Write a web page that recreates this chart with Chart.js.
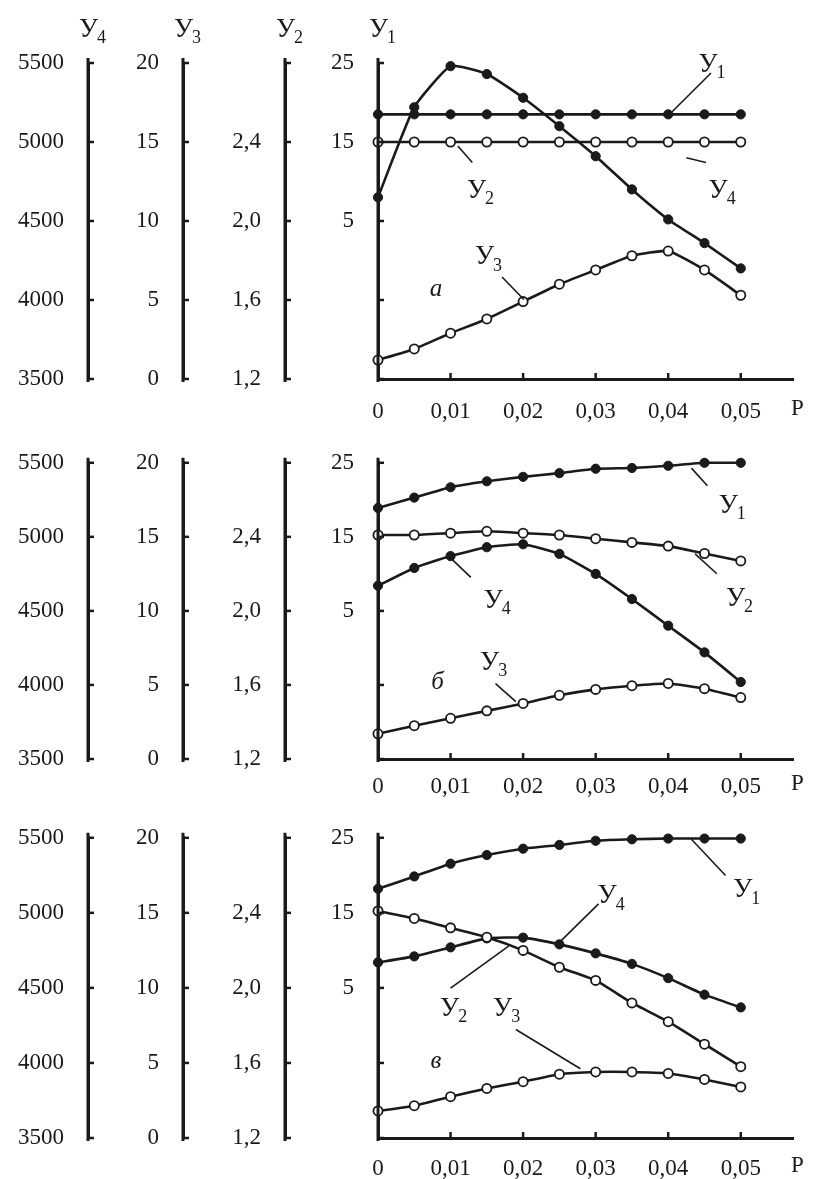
<!DOCTYPE html>
<html>
<head>
<meta charset="utf-8">
<script src="https://cdn.jsdelivr.net/npm/chart.js@4.4.1/dist/chart.umd.min.js"></script>
<style>
  body { margin: 0; background: #fff; width: 813px; height: 1179px; overflow: hidden; }
  .panel { position: absolute; left: 0; }
</style>
</head>
<body>
<div class="panel" style="top:0"><canvas id="chart-a" width="813" height="425"></canvas></div>
<div class="panel" style="top:425px"><canvas id="chart-b" width="813" height="375"></canvas></div>
<div class="panel" style="top:800px"><canvas id="chart-c" width="813" height="379"></canvas></div>
<script>
// P values (x axis), same for all three panels
const pValues = [0, 0.005, 0.01, 0.015, 0.02, 0.025, 0.03, 0.035, 0.04, 0.045, 0.05];

// panel a
const aY1 = [18.5, 18.5, 18.5, 18.5, 18.5, 18.5, 18.5, 18.5, 18.5, 18.5, 18.5];
const aY2 = [2.4, 2.4, 2.4, 2.4, 2.4, 2.4, 2.4, 2.4, 2.4, 2.4, 2.4];
const aY3 = [1.2, 1.9, 2.9, 3.8, 4.9, 6.0, 6.9, 7.8, 8.1, 6.9, 5.3];
const aY4 = [4650, 5220, 5480, 5430, 5280, 5100, 4910, 4700, 4510, 4360, 4200];

// panel б
const bY1 = [18.9, 20.3, 21.7, 22.5, 23.1, 23.6, 24.2, 24.3, 24.6, 25.0, 25.0];
const bY2 = [2.41, 2.41, 2.42, 2.43, 2.42, 2.41, 2.39, 2.37, 2.35, 2.31, 2.27];
const bY3 = [1.7, 2.25, 2.75, 3.25, 3.75, 4.3, 4.7, 4.95, 5.1, 4.75, 4.15];
const bY4 = [4670, 4790, 4870, 4930, 4950, 4885, 4750, 4580, 4400, 4220, 4020];

// panel в
const cY1 = [18.2, 19.85, 21.55, 22.7, 23.55, 24.05, 24.6, 24.8, 24.9, 24.9, 24.9];
const cY2 = [2.41, 2.37, 2.32, 2.27, 2.2, 2.11, 2.04, 1.92, 1.82, 1.7, 1.58];
const cY3 = [1.8, 2.15, 2.75, 3.3, 3.75, 4.25, 4.4, 4.4, 4.3, 3.9, 3.4];
const cY4 = [4670, 4710, 4770, 4830, 4835, 4790, 4730, 4660, 4565, 4455, 4370];

// ticks and their labels
const xTicks = [0, 0.01, 0.02, 0.03, 0.04, 0.05];
const xTickLabels = ['0', '0,01', '0,02', '0,03', '0,04', '0,05'];
const y1Ticks = [-15, -5, 5, 15, 25];
const y1TickLabels = ['', '', '5', '15', '25'];
const y2Ticks = [1.2, 1.6, 2.0, 2.4, 2.8];
const y2TickLabels = ['1,2', '1,6', '2,0', '2,4', ''];
const y3Ticks = [0, 5, 10, 15, 20];
const y3TickLabels = ['0', '5', '10', '15', '20'];
const y4Ticks = [3500, 4000, 4500, 5000, 5500];
const y4TickLabels = ['3500', '4000', '4500', '5000', '5500'];

// curve captions: text position and leader line, in (P, У3) units
const aNotes = [
    { sub: '1', x: 0.0461, y: 19.9, line: [0.0404, 16.85, 0.0459, 19.37] },
    { sub: '2', x: 0.0142, y: 11.9, line: [0.0110, 14.75, 0.0130, 13.7] },
    { sub: '4', x: 0.0475, y: 11.9, line: [0.0425, 14.0, 0.0452, 13.7] },
    { sub: '3', x: 0.0153, y: 7.7, line: [0.0171, 6.46, 0.0201, 5.03] },
];
const bNotes = [
    { sub: '1', x: 0.0489, y: 17.1, line: [0.0432, 19.64, 0.0454, 18.45] },
    { sub: '2', x: 0.0499, y: 10.8, line: [0.0437, 13.85, 0.0467, 12.51] },
    { sub: '4', x: 0.0165, y: 10.7, line: [0.0101, 13.53, 0.0128, 12.26] },
    { sub: '3', x: 0.0160, y: 6.5, line: [0.0162, 5.09, 0.0190, 3.88] },
];
const cNotes = [
    { sub: '1', x: 0.0509, y: 16.5, line: [0.0432, 19.9, 0.0479, 17.49] },
    { sub: '4', x: 0.0322, y: 16.1, line: [0.0249, 12.98, 0.0304, 15.6] },
    { sub: '2', x: 0.0105, y: 8.6, line: [0.0100, 9.99, 0.0180, 12.78] },
    { sub: '3', x: 0.0178, y: 8.6, line: [0.0190, 7.23, 0.0279, 4.61] },
];

const INK = '#1a1a1a';
const SERIF = '"Liberation Serif", "DejaVu Serif", serif';

function drawY( ctx, cx, cy, sub, size )
{
    ctx.font = size + 'px ' + SERIF;
    const w1 = ctx.measureText('У').width;
    const small = Math.round(size * 0.68) + 'px ' + SERIF;
    ctx.font = small;
    const w2 = ctx.measureText(sub).width;
    const left = cx - (w1 + w2) / 2;
    ctx.textAlign = 'left';
    ctx.textBaseline = 'middle';
    ctx.font = size + 'px ' + SERIF;
    ctx.fillText('У', left, cy);
    ctx.font = small;
    ctx.fillText(sub, left + w1 - 1, cy + size * 0.32);
}

const inkPlugin = {
    id: 'ink',
    afterDraw( chart, args, opts ) {
        const ctx = chart.ctx;
        const xs = chart.scales.x;
        const ys = chart.scales.y3;
        ctx.save();
        ctx.strokeStyle = INK;
        ctx.fillStyle = INK;

        // small tick stubs on the left axes, pointing right, and the axis ends
        ['y1', 'y2', 'y3', 'y4'].forEach( id => {
            const s = chart.scales[id];
            ctx.lineWidth = 3;
            ctx.beginPath();
            ctx.moveTo(s.right, s.top - 5);
            ctx.lineTo(s.right, s.bottom + 3);
            ctx.stroke();
            ctx.lineWidth = 2.5;
            for( let i = 0; i < s.ticks.length; i++ )
            {
                const py = s.getPixelForTick(i);
                ctx.beginPath();
                ctx.moveTo(s.right, py);
                ctx.lineTo(s.right + 6, py);
                ctx.stroke();
            }
            if( opts.titles )
                drawY(ctx, s.right + 5, 30, id.slice(1), 27);
        } );

        // stubs on the P axis
        for( let i = 1; i < xTicks.length; i++ )
        {
            const px = xs.getPixelForValue(xTicks[i]);
            ctx.beginPath();
            ctx.moveTo(px, xs.top);
            ctx.lineTo(px, xs.top - 6);
            ctx.stroke();
        }

        // axis name P
        ctx.font = '23px ' + SERIF;
        ctx.textAlign = 'left';
        ctx.textBaseline = 'middle';
        ctx.fillText('P', chart.chartArea.right - 2, xs.top + xs.options.ticks.padding + 11);

        // captions with leader lines
        ctx.lineWidth = 1.6;
        opts.notes.forEach( n => {
            ctx.beginPath();
            ctx.moveTo(xs.getPixelForValue(n.line[0]), ys.getPixelForValue(n.line[1]));
            ctx.lineTo(xs.getPixelForValue(n.line[2]), ys.getPixelForValue(n.line[3]));
            ctx.stroke();
            drawY(ctx, xs.getPixelForValue(n.x), ys.getPixelForValue(n.y), n.sub, 27);
        } );

        // panel letter
        ctx.font = 'italic 25px ' + SERIF;
        ctx.textAlign = 'center';
        ctx.fillText(opts.tag, xs.getPixelForValue(opts.tagAt[0]), ys.getPixelForValue(opts.tagAt[1]));
        ctx.restore();
    }
};

function line( data, axis, filled )
{
    return {
        data: data.map( (v, i) => ({ x: pValues[i], y: v }) ),
        yAxisID: axis,
        borderColor: INK,
        borderWidth: 2.6,
        tension: 0.15,
        pointRadius: 4.6,
        pointBorderWidth: filled ? 1 : 1.8,
        pointBorderColor: INK,
        pointBackgroundColor: filled ? INK : '#ffffff',
        clip: false,
    };
}

function yAxis( ticks, labels, min, max, width, weight )
{
    return {
        type: 'linear',
        position: 'left',
        min: min,
        max: max,
        weight: weight,
        grid: { display: false, drawTicks: false },
        border: { display: true, color: INK, width: 3 },
        afterBuildTicks: s => { s.ticks = ticks.map( v => ({ value: v }) ); },
        afterFit: s => { s.width = width; },
        ticks: {
            padding: 24,
            color: INK,
            font: { family: SERIF, size: 23 },
            callback: (v, i) => labels[i],
        },
    };
}

function makePanel( id, series, notes, tag, tagAt, top, xPad, titles )
{
    const ctx = document.getElementById(id).getContext('2d');
    new Chart( ctx, {
        type: 'line',
        data: {
            datasets: [
                line(series[0], 'y1', true),
                line(series[1], 'y2', false),
                line(series[2], 'y3', false),
                line(series[3], 'y4', true),
            ]
        },
        options: {
            responsive: false,
            animation: false,
            layout: { padding: { top: top, right: 20, left: 0, bottom: 0 } },
            plugins: {
                legend: { display: false },
                tooltip: { enabled: false },
                ink: { notes: notes, tag: tag, tagAt: tagAt, titles: titles },
            },
            scales: {
                x: {
                    type: 'linear',
                    min: 0,
                    max: 0.0572,
                    grid: { display: false, drawTicks: false },
                    border: { display: true, color: INK, width: 3 },
                    afterBuildTicks: s => { s.ticks = xTicks.map( v => ({ value: v }) ); },
                    afterFit: s => { s.height = document.getElementById(id).height - 316 - top; },
                    ticks: {
                        padding: xPad,
                        maxRotation: 0,
                        autoSkip: false,
                        color: INK,
                        font: { family: SERIF, size: 23 },
                        callback: (v, i) => xTickLabels[i],
                    },
                },
                y1: yAxis(y1Ticks, y1TickLabels, -15, 25, 93, 0),
                y2: yAxis(y2Ticks, y2TickLabels, 1.2, 2.8, 102, 1),
                y3: yAxis(y3Ticks, y3TickLabels, 0, 20, 95, 2),
                y4: yAxis(y4Ticks, y4TickLabels, 3500, 5500, 88, 3),
            }
        },
        plugins: [inkPlugin]
    });
}

document.addEventListener('DOMContentLoaded', function(){

    makePanel('chart-a', [aY1, aY2, aY3, aY4], aNotes, 'а', [0.0080, 5.7], 63, 19, true);
    makePanel('chart-b', [bY1, bY2, bY3, bY4], bNotes, 'б', [0.0082, 5.15], 18, 14, false);
    makePanel('chart-c', [cY1, cY2, cY3, cY4], cNotes, 'в', [0.0080, 5.1], 22, 17, false);

});
</script>
</body>
</html>
